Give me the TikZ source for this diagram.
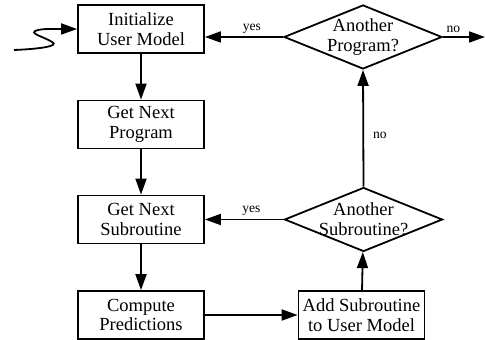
\documentclass[tikz,border=0pt]{standalone}
\usepackage{fontspec}
\setmainfont{Liberation Serif}
\usetikzlibrary{shapes.geometric,arrows.meta}
\begin{document}
\begin{tikzpicture}[x=0.5pt,y=-0.5pt,
  box/.style={draw,line width=0.9pt,minimum width=63pt,minimum height=24pt,inner sep=0pt,align=center,font=\fontsize{9.25}{9.9}\selectfont},
  dia/.style={draw,diamond,line width=0.9pt,minimum width=79pt,minimum height=32pt,inner sep=0pt},
  dtext/.style={align=center,font=\fontsize{9.25}{9.9}\selectfont},
  conn/.style={line width=0.9pt,-{Triangle[length=8pt,width=5.5pt]}},
  lab/.style={font=\fontsize{6.8}{8}\selectfont,inner sep=0pt}]
\useasboundingbox (0,0) rectangle (485,340);
\node[box] (init) at (141,29) {Initialize\\User Model};
\node[box] (prog) at (141,124.5) {Get Next\\Program};
\node[box] (sub) at (141,219.5) {Get Next\\Subroutine};
\node[box] (comp) at (141,315) {Compute\\Predictions};
\node[box] (add) at (361.5,315) {Add Subroutine\\to User Model};
\node[dia,label={[dtext]center:Another\\Program?}] (dprog) at (363,37) {};
\node[dia,label={[dtext]center:Another\\Subroutine?}] (dsub) at (363.5,219.5) {};
\coordinate (start) at (14,50);
\coordinate (exit) at (485,37);
\draw[conn] (start) .. controls (40,49) and (60,46) .. (52,42) .. controls (45,37) and (26,33) .. (38,30) .. controls (44,29) .. (58,29) -- (init.west);
\draw[conn] (init) -- (prog);
\draw[conn] (prog) -- (sub);
\draw[conn] (sub) -- (comp);
\draw[conn] (comp) -- (add);
\draw[conn] (add) -- (dsub);
\draw[conn] (dsub.north) -- node[lab,pos=0.44,right=4.5pt] {no} (dprog.south);
\draw[conn] (dsub.west) -- node[lab,pos=0.41,above=1.5pt] {yes} (dsub.west -| sub.east);
\draw[conn] (dprog.west) -- node[lab,pos=0.4,above=1.5pt] {yes} (dprog.west -| init.east);
\draw[conn] (dprog.east) -- node[lab,pos=0.25,above=1.5pt] {no} (exit);
\end{tikzpicture}
\end{document}
